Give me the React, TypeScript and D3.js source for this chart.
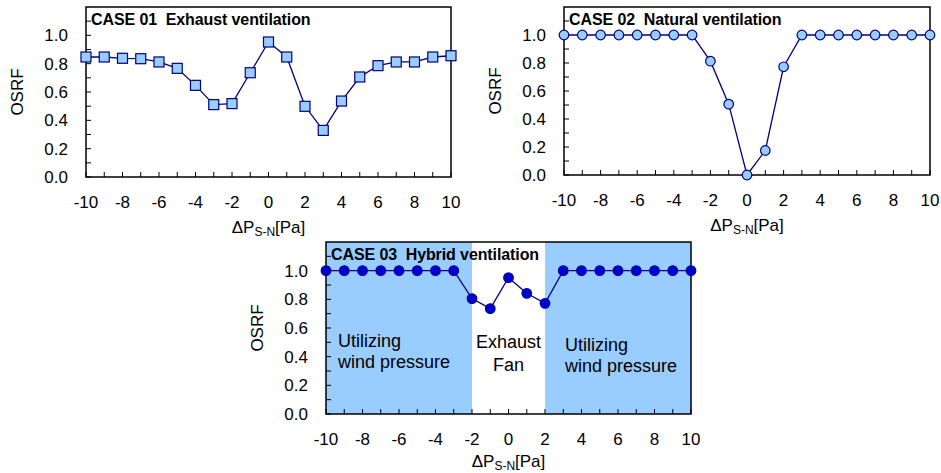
import React, { useEffect, useRef } from 'react';
import * as d3 from 'd3';

const pressure = [-10, -9, -8, -7, -6, -5, -4, -3, -2, -1, 0, 1, 2, 3, 4, 5, 6, 7, 8, 9, 10];
const case01 = [0.847, 0.847, 0.838, 0.835, 0.812, 0.767, 0.647, 0.511, 0.518, 0.736, 0.953, 0.847, 0.499, 0.329, 0.536, 0.706, 0.786, 0.812, 0.812, 0.847, 0.856];
const case02 = [1, 1, 1, 1, 1, 1, 1, 1, 0.813, 0.506, 0.0, 0.175, 0.773, 1, 1, 1, 1, 1, 1, 1, 1];
const case03 = [1, 1, 1, 1, 1, 1, 1, 1, 0.805, 0.735, 0.951, 0.842, 0.772, 1, 1, 1, 1, 1, 1, 1, 1];
const xTicks = [-10, -8, -6, -4, -2, 0, 2, 4, 6, 8, 10];
const yTicks = [0, 0.2, 0.4, 0.6, 0.8, 1.0];
const windZones = [[-10, -2], [2, 10]];

const FONT = 'Liberation Sans, Arial, sans-serif';
const NAVY = '#000080';
const LIGHT = '#99CCFF';

type Panel = {
  left: number; top: number; width: number; height: number; titleGap: number;
  title: string; values: number[]; marker: 'square' | 'circle' | 'dot'; zones?: boolean;
};

const panels: Panel[] = [
  { left: 86, top: 7, width: 365, height: 170, titleGap: 56, title: 'CASE 01  Exhaust ventilation', values: case01, marker: 'square' },
  { left: 564, top: 7, width: 366, height: 168, titleGap: 56, title: 'CASE 02  Natural ventilation', values: case02, marker: 'circle' },
  { left: 326, top: 242, width: 365, height: 172, titleGap: 53, title: 'CASE 03  Hybrid ventilation', values: case03, marker: 'dot', zones: true },
];

function drawPanel(svg: d3.Selection<SVGSVGElement, unknown, null, undefined>, p: Panel) {
  const x = d3.scaleLinear().domain([-10, 10]).range([p.left, p.left + p.width]);
  const y = d3.scaleLinear().domain([0, 1.2]).range([p.top + p.height, p.top]);
  const g = svg.append('g');
  const bottom = p.top + p.height;

  if (p.zones) {
    g.selectAll('rect.zone').data(windZones).enter().append('rect')
      .attr('x', d => x(d[0])).attr('y', p.top)
      .attr('width', d => x(d[1]) - x(d[0])).attr('height', p.height)
      .attr('fill', LIGHT);
  }

  // minor ticks inside the frame
  g.selectAll('line.xt').data(pressure).enter().append('line')
    .attr('x1', d => x(d)).attr('x2', d => x(d))
    .attr('y1', bottom).attr('y2', bottom - 5)
    .attr('stroke', '#000').attr('stroke-width', 1);
  g.selectAll('line.yt').data(d3.range(0, 12).map(i => i / 10)).enter().append('line')
    .attr('x1', p.left).attr('x2', p.left + 5)
    .attr('y1', d => y(d)).attr('y2', d => y(d))
    .attr('stroke', '#000').attr('stroke-width', 1);

  g.append('rect')
    .attr('x', p.left).attr('y', p.top).attr('width', p.width).attr('height', p.height)
    .attr('fill', 'none').attr('stroke', '#000').attr('stroke-width', 1.5);

  // tick labels
  g.selectAll('text.xl').data(xTicks).enter().append('text')
    .attr('x', d => x(d)).attr('y', bottom + 31)
    .attr('text-anchor', 'middle').attr('font-family', FONT).attr('font-size', 17)
    .text(d => String(d));
  g.selectAll('text.yl').data(yTicks).enter().append('text')
    .attr('x', p.left - 18).attr('y', d => y(d) + 6)
    .attr('text-anchor', 'end').attr('font-family', FONT).attr('font-size', 17)
    .text(d => d.toFixed(1));

  // axis titles
  const xt = g.append('text')
    .attr('x', p.left + p.width / 2).attr('y', bottom + p.titleGap)
    .attr('text-anchor', 'middle').attr('font-family', FONT).attr('font-size', 17);
  xt.append('tspan').text('ΔP');
  xt.append('tspan').attr('font-size', 12).attr('dy', 3).text('S-N');
  xt.append('tspan').attr('dy', -3).text('[Pa]');

  g.append('text')
    .attr('transform', `translate(${p.left - 63},${p.top + p.height / 2}) rotate(-90)`)
    .attr('text-anchor', 'middle').attr('font-family', FONT).attr('font-size', 17)
    .text('OSRF');

  g.append('text')
    .attr('x', p.left + 5).attr('y', p.top + 18)
    .attr('font-family', FONT).attr('font-size', 16).attr('font-weight', 'bold')
    .attr('letter-spacing', -0.1)
    .style('white-space', 'pre')
    .text(p.title);

  if (p.zones) {
    const notes = [
      { x: x(-10) + 12, lines: ['Utilizing', 'wind pressure'], anchor: 'start', y0: 0.47, y1: 0.32 },
      { x: x(0), lines: ['Exhaust', 'Fan'], anchor: 'middle', y0: 0.46, y1: 0.3 },
      { x: x(2) + 20, lines: ['Utilizing', 'wind pressure'], anchor: 'start', y0: 0.44, y1: 0.29 },
    ];
    notes.forEach(n => {
      [n.y0, n.y1].forEach((v, i) => {
        g.append('text').attr('x', n.x).attr('y', y(v))
          .attr('text-anchor', n.anchor).attr('font-family', FONT).attr('font-size', 18)
          .text(n.lines[i]);
      });
    });
  }

  const pts = pressure.map((d, i) => [d, p.values[i]] as [number, number]);
  const line = d3.line<[number, number]>().x(d => x(d[0])).y(d => y(d[1]));
  g.append('path').attr('d', line(pts)!)
    .attr('fill', 'none').attr('stroke', NAVY).attr('stroke-width', 1.3);

  if (p.marker === 'square') {
    g.selectAll('rect.m').data(pts).enter().append('rect')
      .attr('x', d => x(d[0]) - 5).attr('y', d => y(d[1]) - 5)
      .attr('width', 10).attr('height', 10)
      .attr('fill', LIGHT).attr('stroke', NAVY).attr('stroke-width', 1.2);
  } else {
    g.selectAll('circle.m').data(pts).enter().append('circle')
      .attr('cx', d => x(d[0])).attr('cy', d => y(d[1])).attr('r', 4.8)
      .attr('fill', p.marker === 'dot' ? '#0000CC' : LIGHT)
      .attr('stroke', p.marker === 'dot' ? '#0000AA' : NAVY).attr('stroke-width', 1.2);
  }
}

export default function App() {
  const svgRef = useRef<SVGSVGElement>(null);

  useEffect(() => {
    const svg = d3.select(svgRef.current!);
    svg.selectAll('*').remove();
    panels.forEach(p => drawPanel(svg, p));
  }, []);

  return (
    <div style={{ position: 'absolute', left: 0, top: 0 }}>
      <svg ref={svgRef} width={941} height={473} style={{ display: 'block', background: '#fff' }} />
    </div>
  );
}
